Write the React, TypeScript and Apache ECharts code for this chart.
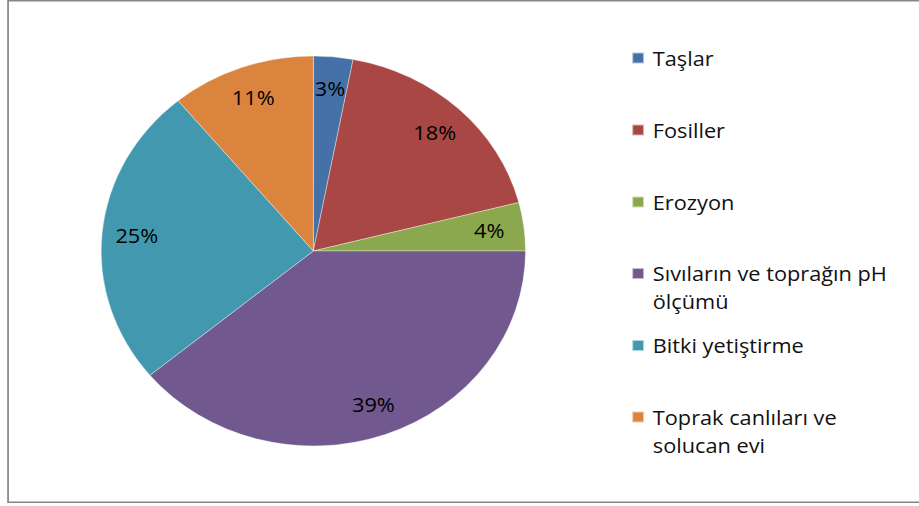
import React, { useEffect, useRef } from "react";
import * as echarts from "echarts";

const categories = [
  "Taşlar",
  "Fosiller",
  "Erozyon",
  "Sıvıların ve toprağın pH ölçümü",
  "Bitki yetiştirme",
  "Toprak canlıları ve solucan evi",
];
const legendLines = [
  ["Taşlar"],
  ["Fosiller"],
  ["Erozyon"],
  ["Sıvıların ve toprağın pH", "ölçümü"],
  ["Bitki yetiştirme"],
  ["Toprak canlıları ve", "solucan evi"],
];
const values = [3, 18, 4, 39, 25, 11];
const colors = ["#4472A8", "#A94744", "#8BA84E", "#71588F", "#4198AF", "#DB843D"];

const STRETCH = 1.088;
const FONT = "'Open Sans', 'Noto Sans', sans-serif";
const LINE = 28;

export default function App() {
  const ref = useRef<HTMLDivElement>(null);
  useEffect(() => {
    if (!ref.current) return;
    const chart = echarts.init(ref.current, undefined, { renderer: "svg" });
    const data = categories.map((name, i) => ({ name, value: values[i] }));
    const legendCenters = [58, 130, 202, 273.5, 345.5, 417];
    chart.setOption({
      animation: false,
      color: colors,
      textStyle: { fontFamily: FONT },
      graphic: [
        {
          type: "rect",
          shape: { x: 7.4, y: 0.75, width: 900, height: 501.5 },
          style: { fill: "none", stroke: "#868686", lineWidth: 1.6 },
          silent: true,
        },
      ],
      legend: categories.map((name, i) => {
        const lines = legendLines[i];
        const multi = lines.length > 1;
        return {
          data: [name],
          orient: "vertical",
          left: 580,
          top: legendCenters[i] - (multi ? LINE * 1.5 : LINE / 2),
          padding: 0,
          icon: "rect",
          itemWidth: 11,
          itemHeight: 11,
          selectedMode: false,
          formatter: () => (multi ? "\n" + lines.join("\n") : lines[0]),
          textStyle: {
            fontFamily: FONT,
            fontSize: 20,
            lineHeight: LINE,
            color: "#111",
            padding: [0, 0, 0, 3],
          },
        };
      }),
      series: [
        {
          type: "pie",
          center: [288, 251],
          radius: [0, 195],
          startAngle: 90,
          clockwise: true,
          silent: true,
          label: { show: false },
          labelLine: { show: false },
          itemStyle: { borderColor: "rgba(255,255,255,0.6)", borderWidth: 0.6 },
          data,
        },
        {
          type: "pie",
          center: [288, 251],
          radius: [125, 195],
          startAngle: 90,
          clockwise: true,
          silent: true,
          itemStyle: { color: "rgba(0,0,0,0)" },
          label: {
            show: true,
            position: "inside",
            formatter: "{d}%",
            fontFamily: FONT,
            fontSize: 20,
            color: "#000",
          },
          labelLine: { show: false },
          data,
        },
      ],
    });
    return () => chart.dispose();
  }, []);
  return (
    <div
      style={{
        position: "fixed",
        left: 0,
        top: 0,
        width: 919,
        height: 506,
        overflow: "hidden",
        background: "#fff",
      }}
    >
      <div
        ref={ref}
        style={{
          width: Math.round(919 / STRETCH),
          height: 506,
          transform: `scaleX(${STRETCH})`,
          transformOrigin: "0 0",
        }}
      />
    </div>
  );
}
